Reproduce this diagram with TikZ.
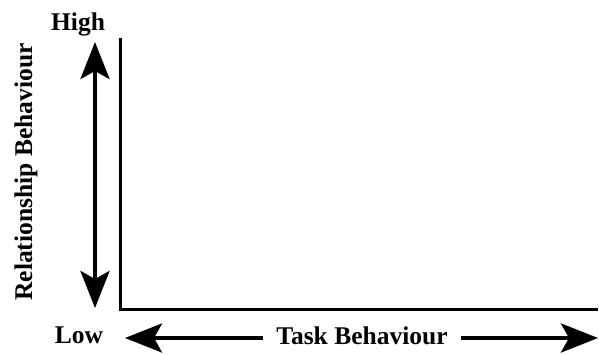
\documentclass[tikz,border=0pt]{standalone}
\usepackage{fontspec}
\setmainfont{Liberation Serif}
\usetikzlibrary{arrows.meta}
\begin{document}
\begin{tikzpicture}[x=1pt,y=-1pt,
  lbl/.style={font=\fontsize{25.5}{30}\selectfont\bfseries, inner sep=0pt, anchor=base},
  axisline/.style={line width=3pt, line join=miter},
  head/.style={Stealth[length=37pt,width=29pt,inset=8pt]},
  bigarrow/.style={line width=4pt, arrows={Stealth[length=37pt,width=29pt,inset=8pt]-Stealth[length=37pt,width=29pt,inset=8pt]}},
  onearrow/.style={line width=4pt, -{Stealth[length=37pt,width=29pt,inset=8pt]}}]
  \useasboundingbox (0,0) rectangle (599,354);

  % axes
  \coordinate (ytop) at (120,38);
  \coordinate (origin) at (120,309);
  \coordinate (xend) at (598,309);
  \draw[axisline] (ytop) -- (origin) -- (xend);

  % vertical scale arrow with its end labels
  \node[lbl] (high) at (78,30) {High};
  \node[lbl] (low) at (79,343) {Low};
  \coordinate (uptip) at (95,42);
  \coordinate (downtip) at (95,308);
  \draw[bigarrow] (downtip) -- (uptip);

  % rotated label of the vertical axis
  \node[lbl, rotate=90] (rel) at (32,172) {Relationship Behaviour};

  % horizontal scale arrow split around its label
  \node[lbl, inner xsep=13pt] (task) at (362,344) {Task Behaviour};
  \coordinate (lefttip) at (125,338);
  \coordinate (righttip) at (598,338);
  \draw[onearrow] (task.west |- lefttip) -- (lefttip);
  \draw[onearrow] (task.east |- righttip) -- (righttip);
\end{tikzpicture}
\end{document}
